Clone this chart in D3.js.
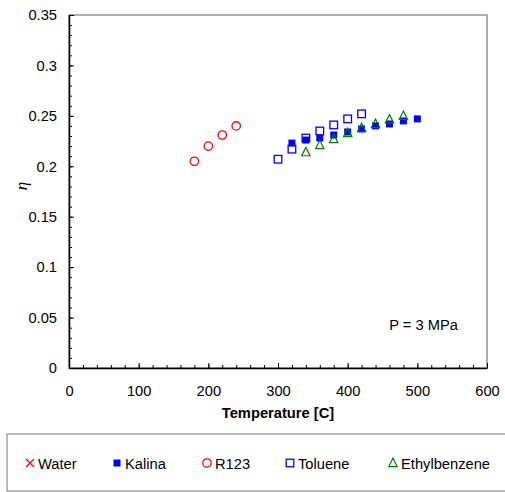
<!DOCTYPE html>
<html>
<head>
<meta charset="utf-8">
<script src="https://cdn.jsdelivr.net/npm/d3@7"></script>
<style>
  body { margin: 0; background: #fff; }
  text { font-family: "Liberation Sans", Arial, sans-serif; }
</style>
</head>
<body>
<div id="chart"></div>
<script>
// series data
var waterT = [], waterEta = [];
var kalinaT = [320, 340, 360, 380, 400, 420, 440, 460, 480, 500];
var kalinaEta = [0.223, 0.226, 0.228, 0.231, 0.234, 0.237, 0.240, 0.242, 0.245, 0.247];
var r123T = [180, 200, 220, 240];
var r123Eta = [0.205, 0.220, 0.231, 0.240];
var tolueneT = [300, 320, 340, 360, 380, 400, 420];
var tolueneEta = [0.207, 0.217, 0.228, 0.235, 0.241, 0.247, 0.252];
var ethylT = [340, 360, 380, 400, 420, 440, 460, 480];
var ethylEta = [0.214, 0.221, 0.227, 0.233, 0.238, 0.242, 0.2465, 0.250];

var xTicks = [0, 100, 200, 300, 400, 500, 600];
var yTicks = [0, 0.05, 0.1, 0.15, 0.2, 0.25, 0.3, 0.35];
var yTickLabels = ["0", "0.05", "0.1", "0.15", "0.2", "0.25", "0.3", "0.35"];

var series = [
  { name: "Water", t: waterT, eta: waterEta, shape: "cross", color: "#ff0000" },
  { name: "Kalina", t: kalinaT, eta: kalinaEta, shape: "fsquare", color: "#0000ff" },
  { name: "R123", t: r123T, eta: r123Eta, shape: "circle", color: "#ff0000" },
  { name: "Toluene", t: tolueneT, eta: tolueneEta, shape: "square", color: "#0000ff" },
  { name: "Ethylbenzene", t: ethylT, eta: ethylEta, shape: "triangle", color: "#008000" }
];

var W = 505, H = 492;
var margin = { top: 15, right: 18, bottom: 124, left: 69 };
var width = W - margin.left - margin.right;
var height = H - margin.top - margin.bottom;
var fs = 14.7;

var svg = d3.select("#chart").append("svg")
    .attr("width", W).attr("height", H);

var g = svg.append("g")
    .attr("transform", "translate(" + margin.left + "," + margin.top + ")");

var x = d3.scaleLinear().domain([0, 600]).range([0, width]);
var y = d3.scaleLinear().domain([0, 0.35]).range([height, 0]);

// plot frame
g.append("rect")
    .attr("x", 0).attr("y", 0)
    .attr("width", width).attr("height", height)
    .attr("fill", "none").attr("stroke", "#777").attr("stroke-width", 1.2);

// minor ticks
var xAxisMinor = d3.axisTop(x).tickValues(d3.range(0, 601, 20)).tickSize(3).tickFormat("");
var yAxisMinor = d3.axisRight(y).tickValues(d3.range(0, 0.3501, 0.01)).tickSize(3).tickFormat("");
g.append("g").attr("transform", "translate(0," + height + ")").call(xAxisMinor)
    .call(function(s) { s.select(".domain").remove(); });
g.append("g").call(yAxisMinor)
    .call(function(s) { s.select(".domain").remove(); });

// major axes
var xAxis = d3.axisBottom(x).tickValues(xTicks).tickSizeInner(0).tickSizeOuter(0).tickPadding(18);
var yAxis = d3.axisLeft(y).tickValues(yTicks).tickSizeInner(0).tickSizeOuter(0).tickPadding(12)
    .tickFormat(function(d, i) { return yTickLabels[i]; });

var gx = g.append("g").attr("transform", "translate(0," + height + ")").call(xAxis);
var gy = g.append("g").call(yAxis);
[gx, gy].forEach(function(a) {
  a.select(".domain").attr("stroke", "#000").attr("stroke-width", 1.5);
  a.selectAll("text").attr("font-size", fs).attr("fill", "#000")
    .attr("font-family", "Liberation Sans, Arial, sans-serif");
});
// major ticks inside the plot
g.append("g").attr("transform", "translate(0," + height + ")")
    .call(d3.axisTop(x).tickValues(xTicks).tickSize(5).tickFormat(""))
    .call(function(s) { s.select(".domain").remove(); });
g.append("g")
    .call(d3.axisRight(y).tickValues(yTicks).tickSize(5).tickFormat(""))
    .call(function(s) { s.select(".domain").remove(); });
g.selectAll(".tick line").attr("stroke", "#000");

// axis titles
g.append("text")
    .attr("x", width / 2).attr("y", height + 50)
    .attr("text-anchor", "middle")
    .attr("font-size", fs).attr("font-weight", "bold")
    .text("Temperature [C]");

svg.append("text")
    .attr("transform", "translate(27,186) rotate(-90)")
    .attr("text-anchor", "middle")
    .attr("font-size", 17).attr("font-style", "italic")
    .style("font-family", "Liberation Serif, serif")
    .text("η");

g.append("text")
    .attr("x", x(509)).attr("y", y(0.038))
    .attr("text-anchor", "middle")
    .attr("font-size", fs)
    .text("P = 3 MPa");

function drawMarker(sel, shape, color) {
  if (shape === "fsquare") {
    sel.append("rect").attr("x", -3.5).attr("y", -3.5).attr("width", 7).attr("height", 7)
      .attr("fill", color);
  } else if (shape === "square") {
    sel.append("rect").attr("x", -3.8).attr("y", -3.8).attr("width", 7.6).attr("height", 7.6)
      .attr("fill", "none").attr("stroke", color).attr("stroke-width", 1.3);
  } else if (shape === "circle") {
    sel.append("circle").attr("r", 4.2)
      .attr("fill", "none").attr("stroke", color).attr("stroke-width", 1.3);
  } else if (shape === "triangle") {
    sel.append("path").attr("d", "M0,-4.8L4.2,3.6L-4.2,3.6Z")
      .attr("fill", "none").attr("stroke", color).attr("stroke-width", 1.2);
  } else if (shape === "cross") {
    sel.append("path").attr("d", "M-4,-4L4,4M-4,4L4,-4")
      .attr("fill", "none").attr("stroke", color).attr("stroke-width", 1.2);
  }
}

// data points
series.forEach(function(s) {
  var pts = s.t.map(function(t, i) { return { t: t, eta: s.eta[i] }; });
  g.append("g").selectAll("g").data(pts).enter().append("g")
    .attr("transform", function(d) { return "translate(" + x(d.t) + "," + y(d.eta) + ")"; })
    .each(function() { drawMarker(d3.select(this), s.shape, s.color); });
});

// legend
svg.append("rect")
    .attr("x", 7).attr("y", 434).attr("width", 510).attr("height", 57)
    .attr("fill", "none").attr("stroke", "#777").attr("stroke-width", 1);

var legendX = [30, 117, 207, 290, 393];
series.forEach(function(s, i) {
  var lg = svg.append("g").attr("transform", "translate(" + legendX[i] + ",463)");
  drawMarker(lg, s.shape, s.color);
  lg.append("text").attr("x", 8).attr("y", 5.5).attr("font-size", fs).text(s.name);
});
</script>
</body>
</html>
